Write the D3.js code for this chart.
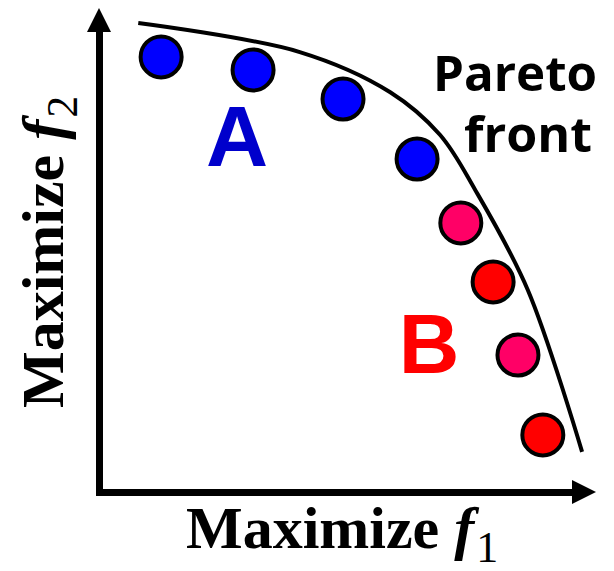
<!DOCTYPE html>
<html>
<head>
<meta charset="utf-8">
<script src="https://cdn.jsdelivr.net/npm/d3@7"></script>
<style>
  body { margin: 0; background: #fff; }
</style>
</head>
<body>
<div id="chart"></div>
<script>
// chart data (objective space, 0-100 on both axes)
var groupA_f1 = [12.5, 31.0, 49.1, 64.0];
var groupA_f2 = [89.9, 87.2, 81.2, 68.8];
var groupB_f1 = [72.8, 79.3, 84.3, 89.3];
var groupB_f2 = [55.6, 43.4, 28.3, 11.8];
var groupB_colors = ["#ff0066", "#ff0000", "#ff0066", "#ff0000"];
var front_f1 = [7.9, 40.4, 58.6, 68.6, 75.7, 86.3, 97.2];
var front_f2 = [96.9, 90.9, 82.6, 73.8, 62.4, 41.7, 8.3];

// set the dimensions of the graph
var width = 614,
    height = 571;

var svg = d3.select("#chart")
  .append("svg")
    .attr("width", width)
    .attr("height", height);

var x = d3.scaleLinear()
  .domain([0, 100])
  .range([99, 596]);

var y = d3.scaleLinear()
  .domain([0, 100])
  .range([492, 8]);

// axes: plain thick lines, no ticks
var arrowLen = 24, arrowHalf = 12;
svg.append("g")
  .attr("transform", "translate(0," + y(0) + ")")
  .call(d3.axisBottom(x.copy().range([x.range()[0] - 3.5, x.range()[1] - arrowLen + 2])).ticks(0).tickSizeOuter(0));
svg.append("g")
  .attr("transform", "translate(" + x(0) + ",0)")
  .call(d3.axisLeft(y.copy().range([y.range()[0] + 3.5, y.range()[1] + arrowLen - 2])).ticks(0).tickSizeOuter(0));
svg.selectAll(".domain")
  .attr("stroke", "#000")
  .attr("stroke-width", 7);

// arrow heads
svg.append("path")
  .attr("d", "M" + x(100) + "," + y(0) +
             "L" + (x(100) - arrowLen) + "," + (y(0) - arrowHalf) +
             "L" + (x(100) - arrowLen) + "," + (y(0) + arrowHalf) + "Z")
  .attr("fill", "#000");
svg.append("path")
  .attr("d", "M" + x(0) + "," + y(100) +
             "L" + (x(0) - arrowHalf) + "," + (y(100) + arrowLen) +
             "L" + (x(0) + arrowHalf) + "," + (y(100) + arrowLen) + "Z")
  .attr("fill", "#000");

// pareto front curve
var frontData = front_f1.map(function(d, i) { return [d, front_f2[i]]; });
svg.append("path")
  .datum(frontData)
  .attr("fill", "none")
  .attr("stroke", "#000")
  .attr("stroke-width", 4)
  .attr("d", d3.line()
    .x(function(d) { return x(d[0]); })
    .y(function(d) { return y(d[1]); })
    .curve(d3.curveCatmullRom.alpha(0.5)));

// solutions
var pointsA = groupA_f1.map(function(d, i) { return {f1: d, f2: groupA_f2[i], c: "#0000ff"}; });
var pointsB = groupB_f1.map(function(d, i) { return {f1: d, f2: groupB_f2[i], c: groupB_colors[i]}; });
svg.append("g")
  .selectAll("circle")
  .data(pointsA.concat(pointsB))
  .enter().append("circle")
    .attr("cx", function(d) { return x(d.f1); })
    .attr("cy", function(d) { return y(d.f2); })
    .attr("r", 20.5)
    .attr("fill", function(d) { return d.c; })
    .attr("stroke", "#000")
    .attr("stroke-width", 4);

// group labels
svg.append("text")
  .attr("x", 237).attr("y", 166)
  .attr("text-anchor", "middle")
  .style("font", "bold 86px 'Liberation Sans', Arial, sans-serif")
  .attr("fill", "#0000cc")
  .text("A");
svg.append("text")
  .attr("x", 429).attr("y", 373)
  .attr("text-anchor", "middle")
  .style("font", "bold 84px 'Liberation Sans', Arial, sans-serif")
  .attr("fill", "#ff0000")
  .text("B");

// pareto front label
svg.append("text")
  .attr("x", 433).attr("y", 91)
  .attr("textLength", 164).attr("lengthAdjust", "spacingAndGlyphs")
  .style("font", "bold 48px 'Open Sans', sans-serif")
  .text("Pareto");
svg.append("text")
  .attr("x", 464).attr("y", 152)
  .attr("textLength", 128).attr("lengthAdjust", "spacingAndGlyphs")
  .style("font", "bold 48px 'Open Sans', sans-serif")
  .text("front");

// axis titles
var xTitle = svg.append("text")
  .attr("x", 186).attr("y", 548)
  .style("font", "bold 60px 'Liberation Serif', 'Times New Roman', serif");
xTitle.append("tspan").text("Maximize ");
xTitle.append("tspan").style("font-style", "italic").text("f");
xTitle.append("tspan").attr("dx", 2).attr("dy", 14).style("font-weight", "normal").style("font-size", "44px").text("1");

var yTitle = svg.append("text")
  .attr("transform", "translate(63,408)rotate(-90)")
  .style("font", "bold 60px 'Liberation Serif', 'Times New Roman', serif");
yTitle.append("tspan").text("Maximize ");
yTitle.append("tspan").style("font-style", "italic").text("f");
yTitle.append("tspan").attr("dx", 2).attr("dy", 14).style("font-weight", "normal").style("font-size", "44px").text("2");
</script>
</body>
</html>
